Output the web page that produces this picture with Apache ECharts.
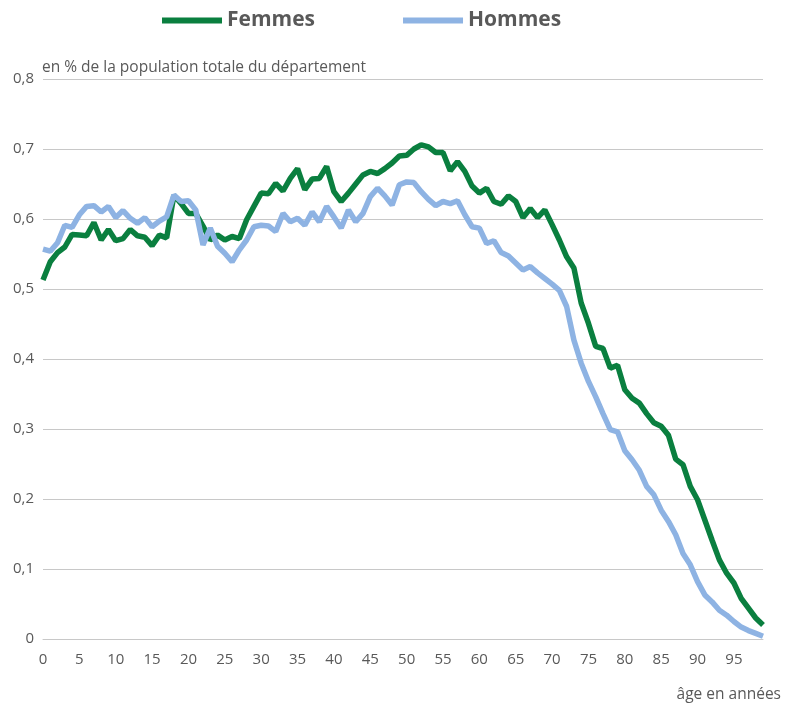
<!DOCTYPE html>
<html>
<head>
<meta charset="utf-8">
<script src="https://cdn.jsdelivr.net/npm/echarts@6/dist/echarts.min.js"></script>
<style>
    html, body { margin: 0; padding: 0; background: #fff; }
    #chart { width: 789px; height: 706px; }
</style>
</head>
<body>
<div id="chart"></div>
<script>
// âges 0 à 99
var ages = [];
for (var i = 0; i < 100; i++) { ages.push(String(i)); }

var femmes = [
    0.513, 0.539, 0.552, 0.560, 0.578, 0.577, 0.576, 0.595, 0.570, 0.585,
    0.569, 0.572, 0.585, 0.576, 0.574, 0.562, 0.577, 0.573, 0.634, 0.622,
    0.608, 0.608, 0.590, 0.570, 0.577, 0.570, 0.575, 0.572, 0.599, 0.618,
    0.637, 0.636, 0.651, 0.640, 0.658, 0.672, 0.642, 0.657, 0.658, 0.675,
    0.639, 0.625, 0.637, 0.650, 0.663, 0.668, 0.665, 0.672, 0.680, 0.690,
    0.691, 0.700, 0.706, 0.703, 0.695, 0.695, 0.669, 0.682, 0.668, 0.647,
    0.637, 0.644, 0.625, 0.621, 0.633, 0.625, 0.602, 0.615, 0.602, 0.613,
    0.592, 0.570, 0.546, 0.530, 0.480, 0.451, 0.418, 0.415, 0.387, 0.391,
    0.356, 0.344, 0.337, 0.322, 0.309, 0.304, 0.291, 0.257, 0.249, 0.218,
    0.199, 0.170, 0.141, 0.113, 0.094, 0.080, 0.058, 0.044, 0.030, 0.020
];

var hommes = [
    0.557, 0.554, 0.566, 0.591, 0.588, 0.606, 0.618, 0.619, 0.610, 0.618,
    0.602, 0.612, 0.601, 0.594, 0.602, 0.589, 0.597, 0.603, 0.634, 0.625,
    0.626, 0.613, 0.563, 0.587, 0.561, 0.551, 0.539, 0.556, 0.570, 0.589,
    0.591, 0.590, 0.582, 0.608, 0.596, 0.601, 0.591, 0.610, 0.596, 0.618,
    0.603, 0.587, 0.613, 0.596, 0.608, 0.632, 0.644, 0.633, 0.620, 0.649,
    0.653, 0.652, 0.639, 0.628, 0.619, 0.625, 0.622, 0.626, 0.606, 0.589,
    0.587, 0.565, 0.569, 0.552, 0.547, 0.537, 0.527, 0.532, 0.523, 0.515,
    0.507, 0.498, 0.475, 0.427, 0.394, 0.368, 0.346, 0.322, 0.299, 0.296,
    0.269, 0.256, 0.241, 0.218, 0.206, 0.184, 0.168, 0.149, 0.122, 0.106,
    0.082, 0.063, 0.053, 0.041, 0.034, 0.025, 0.017, 0.012, 0.008, 0.004
];

var yTicks = [0, 0.1, 0.2, 0.3, 0.4, 0.5, 0.6, 0.7, 0.8];

var textColor = '#595959';
var fontName = '"Open Sans", sans-serif';

var chart = echarts.init(document.getElementById('chart'));

chart.setOption({
    animation: false,
    textStyle: { fontFamily: fontName },
    title: [
        {
            text: 'en % de la population totale du département',
            left: 37,
            top: 55,
            textStyle: { color: textColor, fontSize: 15.5, fontWeight: 'normal', fontFamily: fontName }
        },
        {
            text: 'âge en années',
            right: 3,
            top: 682,
            textStyle: { color: textColor, fontSize: 15.5, fontWeight: 'normal', fontFamily: fontName }
        }
    ],
    legend: {
        data: ['Femmes', 'Hommes'],
        top: 5,
        left: 157,
        icon: 'rect',
        itemWidth: 60,
        itemHeight: 6,
        itemGap: 88,
        textStyle: { color: textColor, fontSize: 21, fontWeight: 'bold', fontFamily: fontName }
    },
    grid: {
        left: 43,
        right: 26,
        top: 79,
        bottom: 67
    },
    xAxis: {
        type: 'category',
        data: ages,
        boundaryGap: false,
        axisLine: { lineStyle: { color: '#c8c8c8', width: 1 } },
        axisTick: { show: false },
        axisLabel: {
            interval: 4,
            color: textColor,
            fontSize: 15,
            margin: 13
        },
        splitLine: { show: false }
    },
    yAxis: {
        type: 'value',
        min: yTicks[0],
        max: yTicks[yTicks.length - 1],
        interval: 0.1,
        axisLine: { show: false },
        axisTick: { show: false },
        axisLabel: {
            color: textColor,
            fontSize: 15,
            margin: 9,
            formatter: function (v) {
                return v === 0 ? '0' : v.toFixed(1).replace('.', ',');
            }
        },
        splitLine: { lineStyle: { color: '#c8c8c8', width: 1 } }
    },
    series: [
        {
            name: 'Femmes',
            type: 'line',
            data: femmes,
            symbol: 'none',
            lineStyle: { color: '#0a7f3f', width: 5.5 },
            itemStyle: { color: '#0a7f3f' }
        },
        {
            name: 'Hommes',
            type: 'line',
            data: hommes,
            symbol: 'none',
            lineStyle: { color: '#8eb3e3', width: 5.5 },
            itemStyle: { color: '#8eb3e3' }
        }
    ]
});
</script>
</body>
</html>
